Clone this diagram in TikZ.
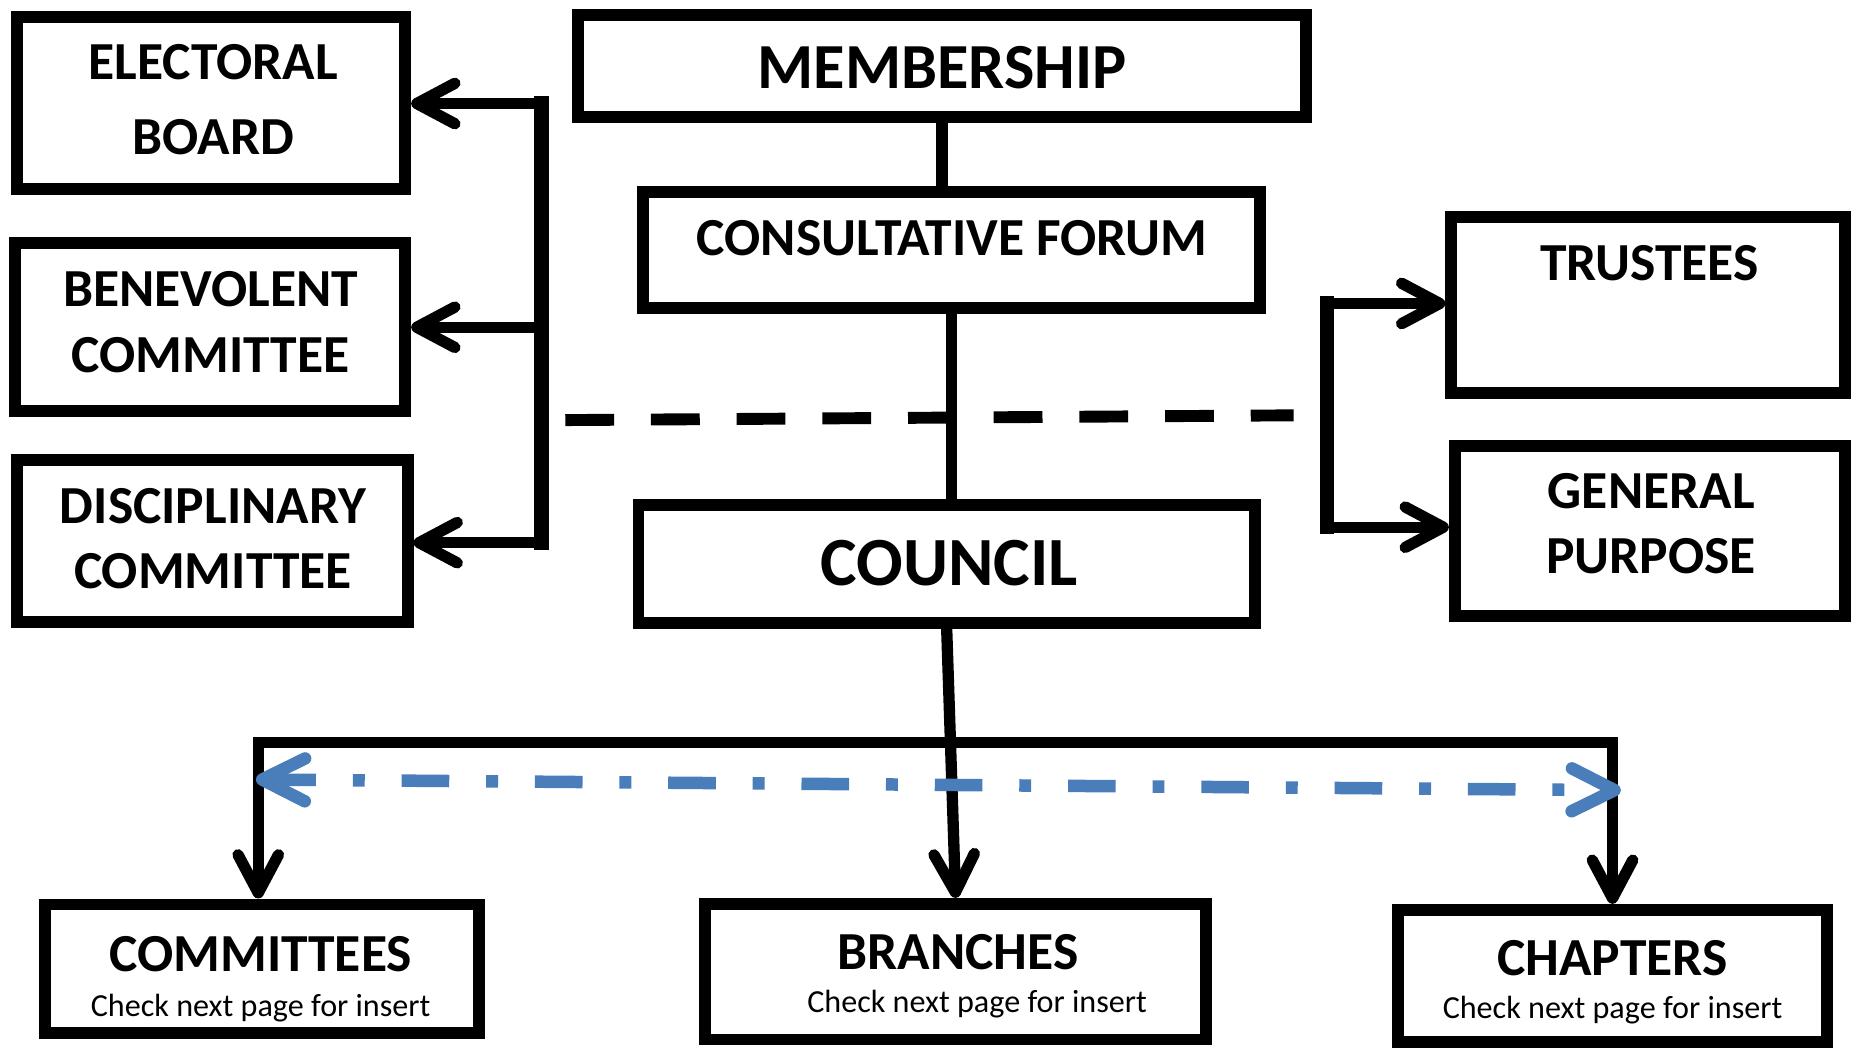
\documentclass[tikz,border=0pt]{standalone}
\usepackage{fontspec}
\setmainfont{Carlito}
\usetikzlibrary{arrows.meta,calc}
\definecolor{bluedd}{HTML}{4A7EBB}
\tikzset{
  tipk/.tip={Straight Barb[length=32pt,width=34pt,line width=9.5pt,round]},
  tipb/.tip={Straight Barb[length=36pt,width=36pt,line width=10.5pt,round]},
  box/.style={draw, line width=10pt, inner sep=0pt},
  hd/.style={font=\bfseries\fontsize{45}{55}\selectfont, align=center, inner sep=0pt},
  big/.style={font=\bfseries\fontsize{54}{60}\selectfont, inner sep=0pt},
  sub/.style={font=\fontsize{27}{30}\selectfont, inner sep=0pt, anchor=base},
  cn/.style={line width=9.5pt},
  brk/.style={line width=12pt, line cap=rect},
  arr/.style={cn, -tipk},
  dashline/.style={line width=10pt, dash pattern=on 41pt off 31pt},
  blueline/.style={line width=10.5pt, bluedd, dash pattern=on 40pt off 31pt on 10pt off 31pt, {tipb}-{tipb}}
}
\begin{document}
\begin{tikzpicture}[x=1pt,y=-1pt]
\useasboundingbox[fill=white] (0,0) rectangle (1568,883);
% boxes
\node[box, minimum width=326pt, minimum height=144pt] (elec) at (177.5,86.5) {};
\node[box, minimum width=328pt, minimum height=141pt] (bene) at (176.5,275) {};
\node[box, minimum width=328pt, minimum height=136pt] (disc) at (178.5,454.5) {};
\node[box, minimum width=612pt, minimum height=86pt] (memb) at (791.5,55.5) {};
\node[box, minimum width=518pt, minimum height=97pt] (cons) at (799.5,210) {};
\node[box, minimum width=518pt, minimum height=99pt] (coun) at (795.5,474) {};
\node[box, minimum width=331pt, minimum height=148pt] (trus) at (1385,256.5) {};
\node[box, minimum width=328pt, minimum height=143pt] (genp) at (1386.5,446) {};
\node[box, minimum width=365pt, minimum height=108pt] (comm) at (220,814) {};
\node[box, minimum width=421pt, minimum height=114pt] (bran) at (803,816.5) {};
\node[box, minimum width=361pt, minimum height=111pt] (chap) at (1355,820) {};
% texts
\node[hd] (elecT) at (179,84) {ELECTORAL\\[8pt]BOARD};
\node[hd] (beneT) at (177,270.5) {BENEVOLENT\\COMMITTEE};
\node[hd] (discT) at (179,452.5) {DISCIPLINARY\\COMMITTEE};
\node[big] (membT) at (791.5,57) {MEMBERSHIP};
\node[hd] (consT) at (800,200) {CONSULTATIVE FORUM};
\node[big, font=\bfseries\fontsize{58}{60}\selectfont] (counT) at (797.5,473) {COUNCIL};
\node[hd] (trusT) at (1386,221) {TRUSTEES};
\node[hd] (genpT) at (1387.5,440) {GENERAL\\PURPOSE};
\node[hd, anchor=base] (commT) at (219,816) {COMMITTEES};
\node[sub] (commS) at (219,854) {Check next page for insert};
\node[hd, anchor=base] (branT) at (805,815) {BRANCHES};
\node[sub] (branS) at (821,851) {Check next page for insert};
\node[hd, anchor=base] (chapT) at (1355,820) {CHAPTERS};
\node[sub] (chapS) at (1355,856) {Check next page for insert};
% vertical trunk
\draw[cn] (memb.south) -- (memb.south |- cons.north);
\draw[cn] (cons.south) -- (cons.south |- coun.north);
% left bracket
\coordinate (L1) at (455,87);
\coordinate (L3) at (455,456);
\draw[brk] (L1) -- (L3);
\draw[arr] (L1) -- (L1 -| elec.east);
\draw[arr] (bene.east -| L1) -- (bene.east);
\draw[arr] (L3) -- (L3 -| disc.east);
% right bracket
\coordinate (R1) at (1115,255);
\coordinate (R2) at (1115,443);
\draw[brk] (R1) -- (R2);
\draw[arr] (R1) -- (R1 -| trus.west);
\draw[arr] (R2) -- (R2 -| genp.west);
% dashed separator
\coordinate (D1) at (475,353);
\coordinate (D2) at (1087,349);
\draw[dashline] (D1) -- (D2);
% bottom distribution
\draw[arr] (coun.south) -- (bran.north);
\coordinate (B1) at (217,624);
\coordinate (B2) at (1355,624);
\draw[cn, line cap=rect] (B1) -- (B2);
\draw[arr] (B1) -- (B1 |- comm.north);
\draw[arr] (B2) -- (B2 |- chap.north);
% blue dash-dot double arrow
\coordinate (E1) at (215,655);
\coordinate (E2) at (1362,664);
\draw[blueline] (E1) -- (E2);
\end{tikzpicture}
\end{document}
